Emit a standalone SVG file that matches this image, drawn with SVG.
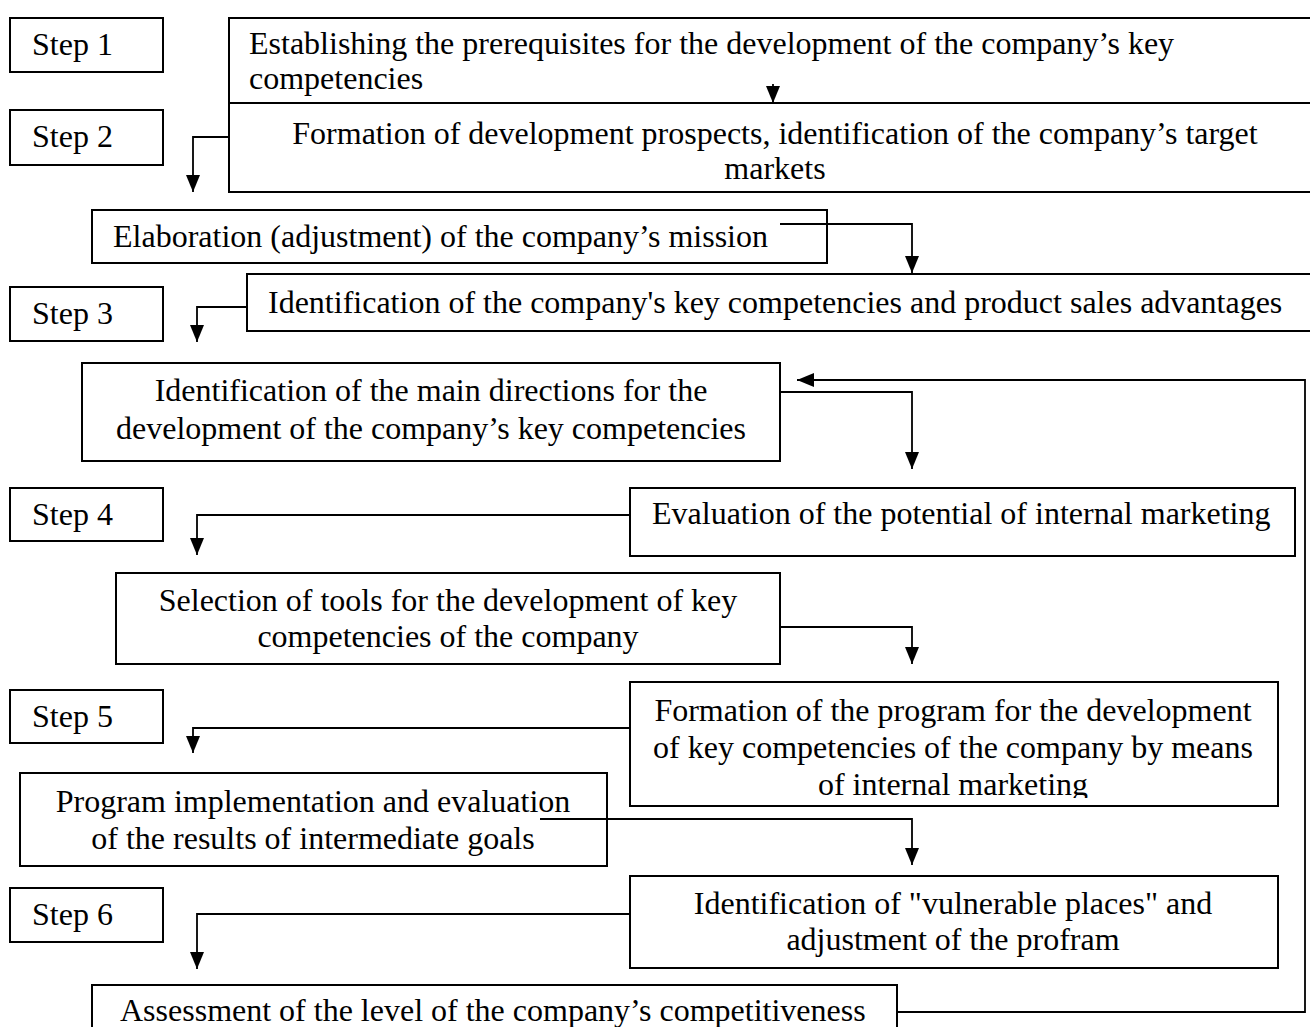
<svg xmlns="http://www.w3.org/2000/svg" width="1310" height="1027" viewBox="0 0 1310 1027">
<style>
  .box { fill: none; stroke: #000; stroke-width: 2; }
  .t { font-family: "Liberation Serif", "Times New Roman", serif; font-size: 32px; fill: #000; }
  .c { text-anchor: middle; }
  .conn { fill: none; stroke: #000; stroke-width: 1.8; }
</style>
<defs>
  <marker id="ah" markerUnits="userSpaceOnUse" markerWidth="17" markerHeight="14" refX="17" refY="7" orient="auto" viewBox="0 0 17 14">
    <path d="M0,0 L17,7 L0,14 Z" fill="#000"/>
  </marker>
  <clipPath id="clipH"><rect x="630" y="682" width="648" height="116"/></clipPath>
</defs>
<rect width="1310" height="1027" fill="#fff"/>

<g id="step1"><rect class="box" x="10" y="18" width="153" height="54"/><text class="t" x="32" y="55">Step 1</text></g>
<g id="step2"><rect class="box" x="10" y="110" width="153" height="55"/><text class="t" x="32" y="147">Step 2</text></g>
<g id="step3"><rect class="box" x="10" y="287" width="153" height="54"/><text class="t" x="32" y="324">Step 3</text></g>
<g id="step4"><rect class="box" x="10" y="488" width="153" height="53"/><text class="t" x="32" y="525">Step 4</text></g>
<g id="step5"><rect class="box" x="10" y="690" width="153" height="53"/><text class="t" x="32" y="727">Step 5</text></g>
<g id="step6"><rect class="box" x="10" y="888" width="153" height="54"/><text class="t" x="32" y="925">Step 6</text></g>

<g id="nodeA"><rect class="box" x="229" y="18" width="1090" height="85"/>
  <text class="t" x="249" y="54">Establishing the prerequisites for the development of the company’s key</text>
  <text class="t" x="249" y="89">competencies</text></g>
<g id="nodeB"><rect class="box" x="229" y="103" width="1090" height="89"/>
  <text class="t c" x="775" y="144">Formation of development prospects, identification of the company’s target</text>
  <text class="t c" x="775" y="179">markets</text></g>
<g id="nodeC"><rect class="box" x="92" y="210" width="735" height="53"/>
  <text class="t" x="113" y="247">Elaboration (adjustment) of the company’s mission</text></g>
<g id="nodeD"><rect class="box" x="247" y="274" width="1073" height="57"/>
  <text class="t" x="268" y="313">Identification of the company's key competencies and product sales advantages</text></g>
<g id="nodeE"><rect class="box" x="82" y="363" width="698" height="98"/>
  <text class="t c" x="431" y="401">Identification of the main directions for the</text>
  <text class="t c" x="431" y="439">development of the company’s key competencies</text></g>
<g id="nodeF"><rect class="box" x="630" y="488" width="665" height="68"/>
  <text class="t" x="652" y="524">Evaluation of the potential of internal marketing</text></g>
<g id="nodeG"><rect class="box" x="116" y="573" width="664" height="91"/>
  <text class="t c" x="448" y="611">Selection of tools for the development of key</text>
  <text class="t c" x="448" y="647">competencies of the company</text></g>
<g id="nodeH"><rect class="box" x="630" y="682" width="648" height="124"/>
  <g clip-path="url(#clipH)">
  <text class="t c" x="953" y="721">Formation of the program for the development</text>
  <text class="t c" x="953" y="758">of key competencies of the company by means</text>
  <text class="t c" x="953" y="795">of internal marketing</text></g></g>
<g id="nodeI"><rect class="box" x="20" y="773" width="587" height="93"/>
  <text class="t c" x="313" y="812">Program implementation and evaluation</text>
  <text class="t c" x="313" y="849">of the results of intermediate goals</text></g>
<g id="nodeJ"><rect class="box" x="630" y="876" width="648" height="92"/>
  <text class="t c" x="953" y="914">Identification of "vulnerable places" and</text>
  <text class="t c" x="953" y="950">adjustment of the profram</text></g>
<g id="nodeK"><rect class="box" x="92" y="985" width="805" height="60"/>
  <text class="t" x="120" y="1021">Assessment of the level of the company’s competitiveness</text></g>

<g id="connectors">
  <path class="conn" d="M773,84 L773,103" marker-end="url(#ah)"/>
  <path class="conn" d="M229,137 L193,137 L193,192" marker-end="url(#ah)"/>
  <path class="conn" d="M780,224 L912,224 L912,273" marker-end="url(#ah)"/>
  <path class="conn" d="M247,307 L197,307 L197,342" marker-end="url(#ah)"/>
  <path class="conn" d="M780,392 L912,392 L912,469" marker-end="url(#ah)"/>
  <path class="conn" d="M630,515 L197,515 L197,555" marker-end="url(#ah)"/>
  <path class="conn" d="M780,627 L912,627 L912,664" marker-end="url(#ah)"/>
  <path class="conn" d="M630,728 L193,728 L193,753" marker-end="url(#ah)"/>
  <path class="conn" d="M540,819 L912,819 L912,865" marker-end="url(#ah)"/>
  <path class="conn" d="M630,914 L197,914 L197,969" marker-end="url(#ah)"/>
  <path class="conn" d="M897,1012 L1305,1012 L1305,380 L797,380" marker-end="url(#ah)"/>
</g>
</svg>
